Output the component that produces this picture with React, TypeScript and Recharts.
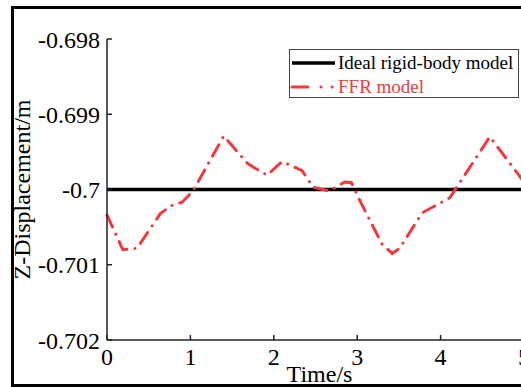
import React from 'react';
import { LineChart, Line, XAxis, YAxis, Legend } from 'recharts';

// time axis (s) and Z displacement (m)
const TIME = [0, 0.19, 0.36, 0.64, 0.76, 0.9, 1.03, 1.4, 1.69, 1.92, 2.1, 2.34, 2.47, 2.67, 2.85, 2.93, 3.06, 3.3, 3.42, 3.51, 3.78, 4.11, 4.59, 5.0];
const FFR = [-0.70034, -0.7008, -0.70078, -0.70032, -0.70022, -0.70017, -0.70002, -0.69929, -0.69966, -0.69981, -0.69963, -0.69975, -0.69997, -0.70002, -0.6999, -0.69991, -0.70021, -0.70073, -0.70085, -0.70078, -0.70031, -0.70011, -0.6993, -0.6999];
const IDEAL = -0.7;

const X_TICKS = [0, 1, 2, 3, 4, 5];
const Y_TICKS = [-0.702, -0.701, -0.7, -0.699, -0.698];

const SERIES = [
  { key: 'ideal', name: 'Ideal rigid-body model', color: '#000000' },
  { key: 'ffr', name: 'FFR model', color: '#f03a3e' },
];

const data = TIME.map((t, i) => ({ t, ffr: FFR[i], ideal: IDEAL }));

const FONT = 'Liberation Serif';

const LegendBox = () => (
  <div
    style={{
      width: 230,
      height: 49,
      boxSizing: 'border-box',
      border: '1px solid #444',
      background: '#fff',
      paddingTop: 1,
      fontFamily: FONT,
      fontSize: 19,
    }}
  >
    {SERIES.map((s) => (
      <div key={s.key} style={{ display: 'flex', alignItems: 'center', height: 24 }}>
        <svg width={48} height={24} style={{ display: 'block' }}>
          <line
            x1={2}
            y1={12}
            x2={45}
            y2={12}
            stroke={s.color}
            strokeWidth={s.key === 'ideal' ? 3.5 : 3}
            strokeLinecap={s.key === 'ideal' ? 'butt' : 'round'}
            strokeDasharray={s.key === 'ideal' ? undefined : '16 13 0.1 11 0.1 30'}
          />
        </svg>
        <span style={{ color: s.color, lineHeight: '24px', whiteSpace: 'nowrap' }}>{s.name}</span>
      </div>
    ))}
  </div>
);

const YLabel = ({ viewBox }: any) => {
  const cy = viewBox.y + viewBox.height / 2;
  return (
    <text
      x={30}
      y={cy}
      transform={`rotate(-90 30 ${cy})`}
      textAnchor="middle"
      fontSize={24}
      fontFamily={FONT}
      fill="#000"
    >
      Z-Displacement/m
    </text>
  );
};

export default function App() {
  const tickStyle = { fontSize: 24, fontFamily: FONT, fill: '#000' };
  return (
    <div style={{ position: 'absolute', left: 0, top: 0, width: 521, height: 387, overflow: 'hidden', background: '#fff', fontFamily: FONT }}>
      <div
        style={{
          position: 'absolute',
          left: 11,
          top: 6,
          width: 600,
          height: 381,
          boxSizing: 'border-box',
          border: '3px solid #000',
        }}
      />
      <div style={{ position: 'absolute', left: 0, top: 0 }}>
        <LineChart width={530} height={387} data={data} margin={{ top: 39, right: 6, bottom: 0, left: 0 }}>
          <XAxis
            dataKey="t"
            type="number"
            domain={[0, 5]}
            ticks={X_TICKS}
            height={47}
            tick={tickStyle}
            tickSize={-5}
            tickMargin={13}
            axisLine={{ stroke: '#222', strokeWidth: 1.5 }}
            tickLine={{ stroke: '#222', strokeWidth: 1.5 }}
            label={{ value: 'Time/s', position: 'insideBottom', offset: 5, dx: 4, fontSize: 24, fontFamily: FONT, fill: '#000' }}
          />
          <XAxis
            xAxisId="top"
            orientation="top"
            dataKey="t"
            type="number"
            domain={[0, 5]}
            height={0}
            tick={false}
            tickLine={false}
            axisLine={{ stroke: '#333', strokeWidth: 1.5 }}
          />
          <YAxis
            type="number"
            domain={[-0.702, -0.698]}
            ticks={Y_TICKS}
            width={107}
            tick={tickStyle}
            tickFormatter={(v: number) => String(v)}
            tickSize={-5}
            tickMargin={12}
            axisLine={{ stroke: '#222', strokeWidth: 1.5 }}
            tickLine={{ stroke: '#222', strokeWidth: 1.5 }}
            label={<YLabel />}
          />
          <Legend
            layout="horizontal"
            verticalAlign="middle"
            align="center"
            content={<LegendBox />}
            wrapperStyle={{ left: 289, top: 49, width: 230, height: 49 }}
          />
          <Line
            type="linear"
            dataKey="ideal"
            name={SERIES[0].name}
            stroke={SERIES[0].color}
            strokeWidth={3.5}
            dot={false}
            isAnimationActive={false}
          />
          <Line
            type="linear"
            dataKey="ffr"
            name={SERIES[1].name}
            stroke={SERIES[1].color}
            strokeWidth={3}
            strokeLinecap="round"
            strokeDasharray="13 8 0.1 8"
            dot={false}
            isAnimationActive={false}
          />
        </LineChart>
      </div>
    </div>
  );
}
